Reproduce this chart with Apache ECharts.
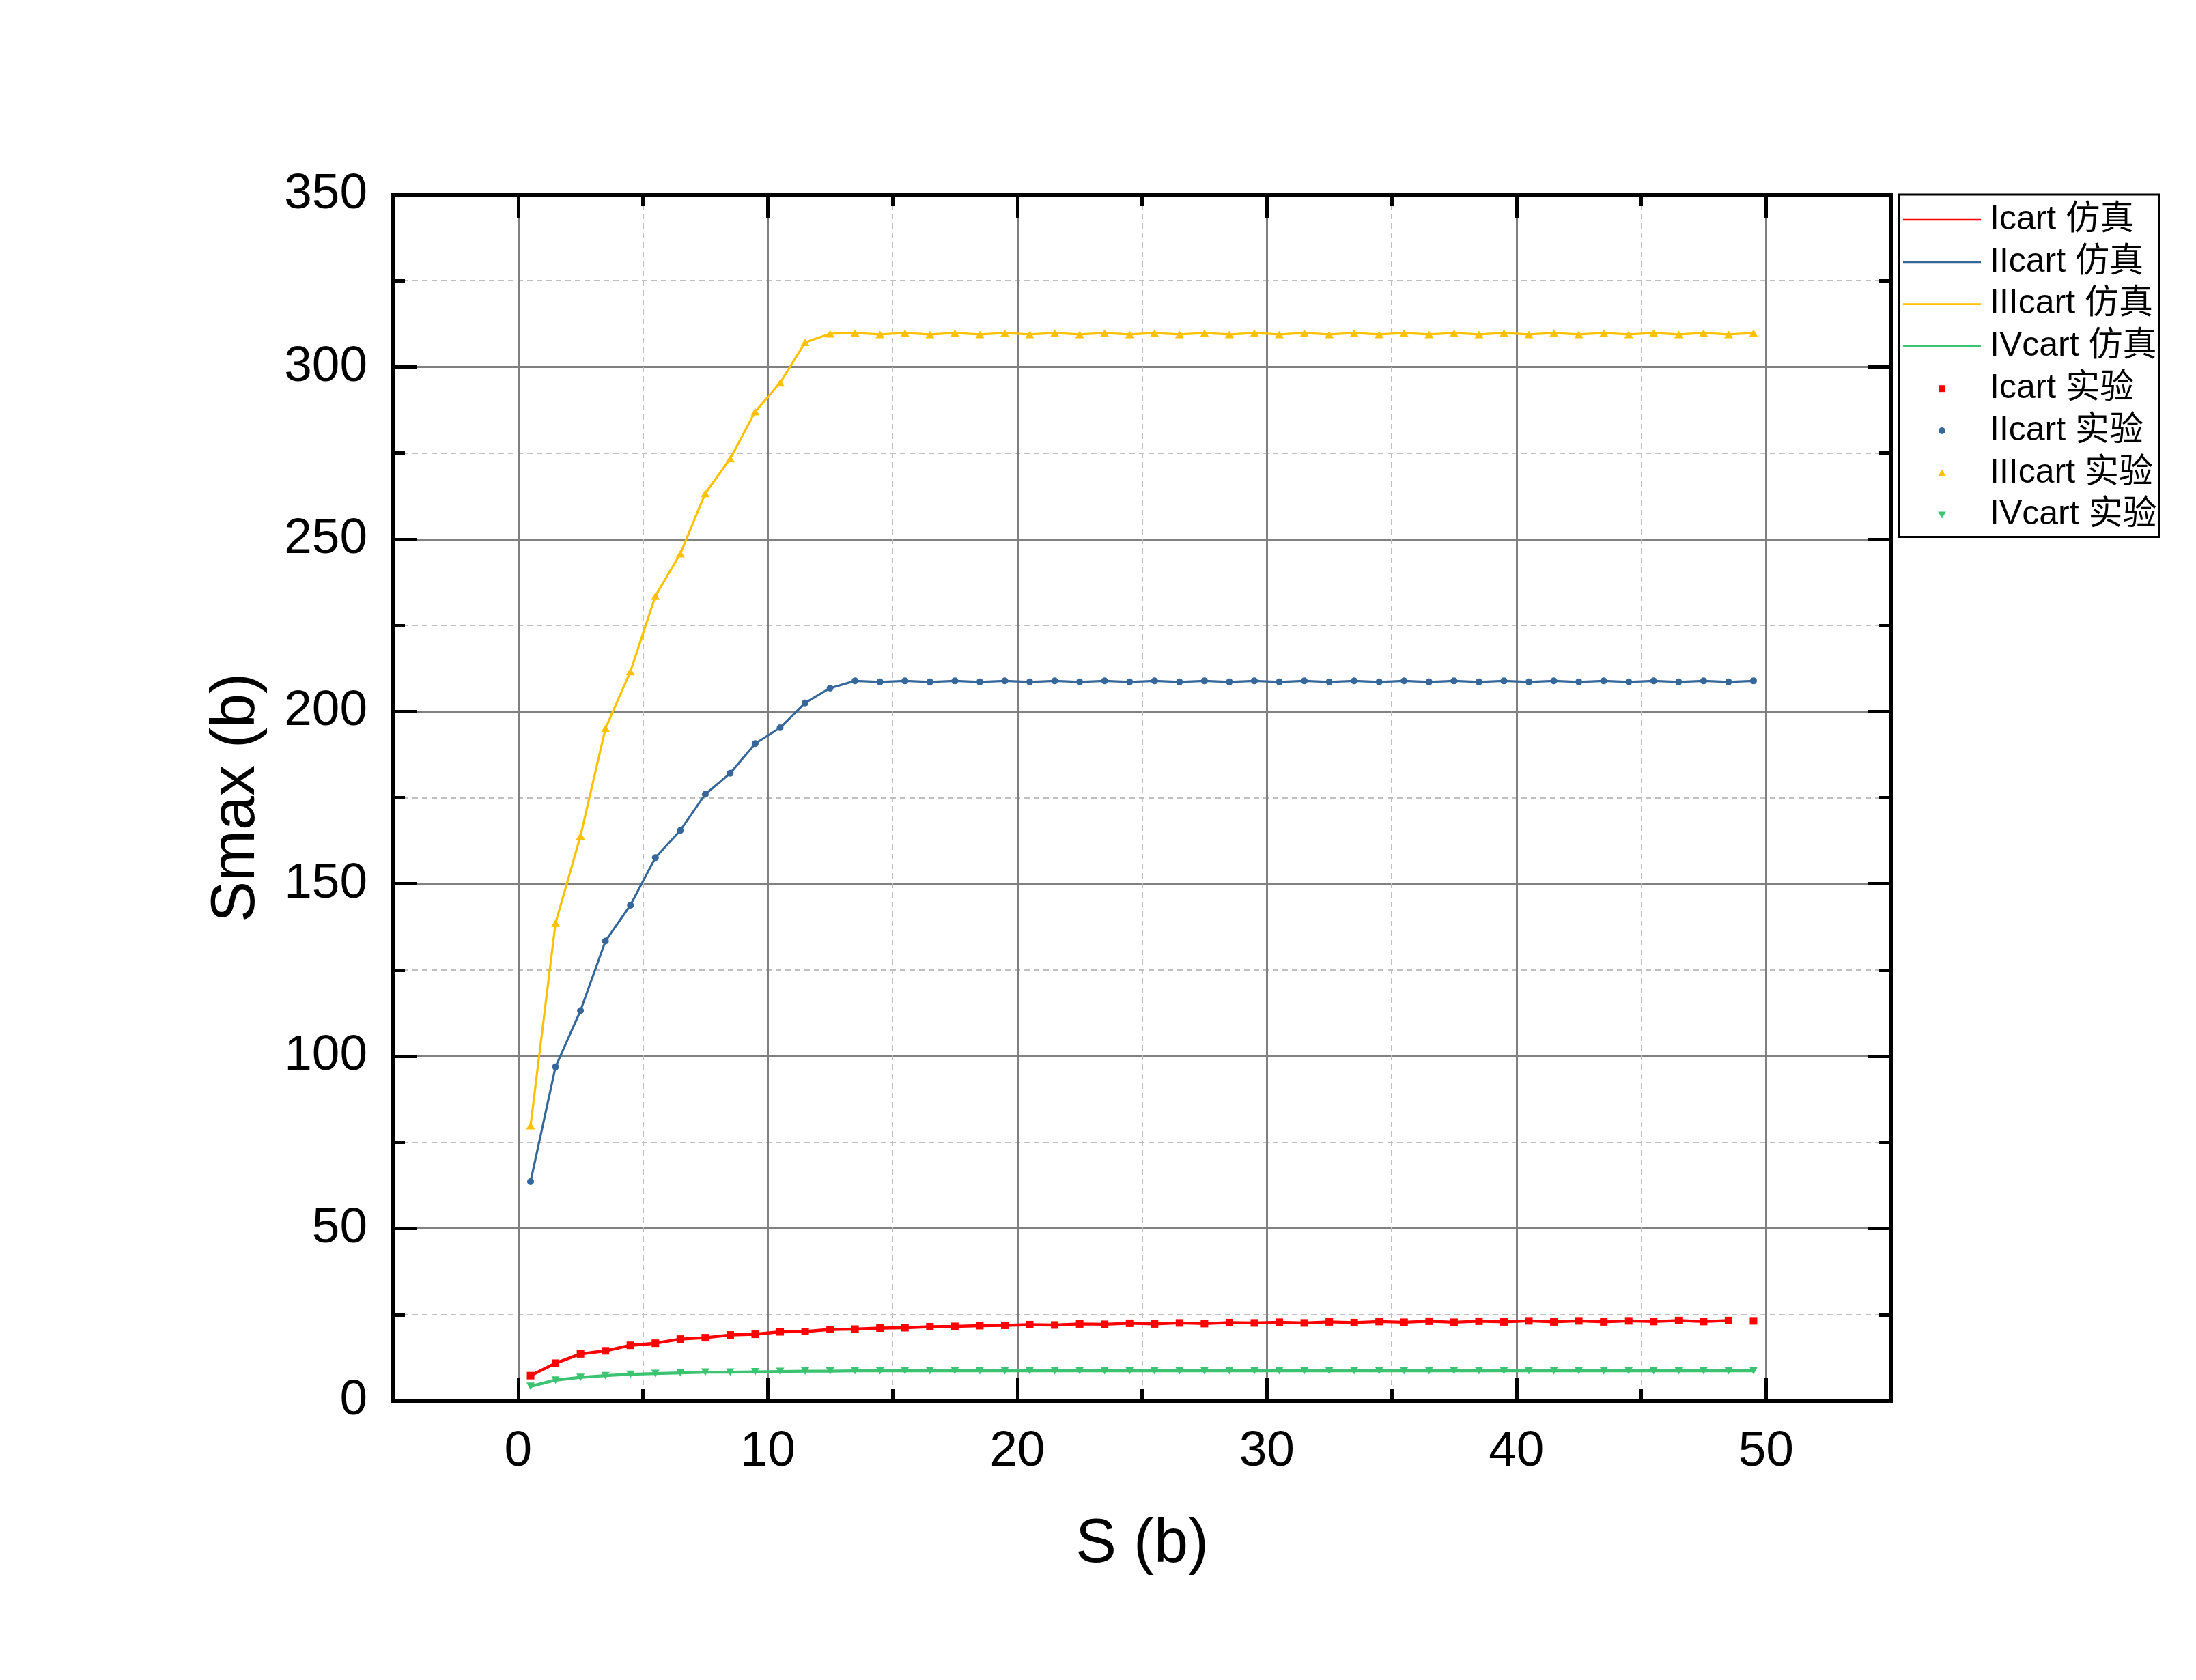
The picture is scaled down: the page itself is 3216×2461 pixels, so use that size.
<!DOCTYPE html>
<html>
<head>
<meta charset="utf-8">
<script src="https://cdn.jsdelivr.net/npm/echarts@6/dist/echarts.min.js"></script>
<style>
html,body{margin:0;padding:0;background:#fff;}
#c{width:3216px;height:2461px;}
</style>
</head>
<body>
<div id="c"></div>
<script>
// ---------------- data ----------------
const sValues = [0.5,1.5,2.5,3.5,4.5,5.5,6.5,7.5,8.5,9.5,
  10.5,11.5,12.5,13.5,14.5,15.5,16.5,17.5,18.5,19.5,
  20.5,21.5,22.5,23.5,24.5,25.5,26.5,27.5,28.5,29.5,
  30.5,31.5,32.5,33.5,34.5,35.5,36.5,37.5,38.5,39.5,
  40.5,41.5,42.5,43.5,44.5,45.5,46.5,47.5,48.5,49.5];

// Icart simulation (line ends at S = 48.5)
const icartSim = [7.3,10.9,13.6,14.5,16.1,16.7,17.9,18.3,19.1,19.3,
  20.0,20.1,20.7,20.8,21.1,21.2,21.5,21.6,21.8,21.9,
  22.1,22.0,22.3,22.2,22.5,22.3,22.6,22.4,22.7,22.6,
  22.8,22.6,22.9,22.7,23.0,22.8,23.1,22.8,23.1,22.9,
  23.2,22.9,23.2,22.9,23.2,23.0,23.3,23.0,23.3];
const icartExp = [7.3,10.9,13.6,14.5,16.1,16.7,17.9,18.3,19.1,19.3,
  20.0,20.1,20.7,20.8,21.1,21.2,21.5,21.6,21.8,21.9,
  22.1,22.0,22.3,22.2,22.5,22.3,22.6,22.4,22.7,22.6,
  22.8,22.6,22.9,22.7,23.0,22.8,23.1,22.8,23.1,22.9,
  23.2,22.9,23.2,22.9,23.2,23.0,23.3,23.0,23.3,23.2];

const iicartSim = [63.6,96.9,113.2,133.4,143.8,157.6,165.5,176.0,182.1,190.7,
  195.3,202.5,206.8,208.9,208.6,208.9,208.6,208.9,208.6,208.9,
  208.6,208.9,208.6,208.9,208.6,208.9,208.6,208.9,208.6,208.9,
  208.6,208.9,208.6,208.9,208.6,208.9,208.6,208.9,208.6,208.9,
  208.6,208.9,208.6,208.9,208.6,208.9,208.6,208.9,208.6,208.9];
const iicartExp = [63.6,96.9,113.2,133.4,143.8,157.6,165.5,176.0,182.1,190.7,
  195.3,202.5,206.8,208.9,208.6,208.9,208.6,208.9,208.6,208.9,
  208.6,208.9,208.6,208.9,208.6,208.9,208.6,208.9,208.6,208.9,
  208.6,208.9,208.6,208.9,208.6,208.9,208.6,208.9,208.6,208.9,
  208.6,208.9,208.6,208.9,208.6,208.9,208.6,208.9,208.6,208.9];

const iiicartSim = [79.8,138.6,163.9,195.1,211.6,233.5,245.8,263.3,273.4,287.0,
  295.4,307.1,309.6,309.8,309.4,309.8,309.4,309.8,309.4,309.8,
  309.4,309.8,309.4,309.8,309.4,309.8,309.4,309.8,309.4,309.8,
  309.4,309.8,309.4,309.8,309.4,309.8,309.4,309.8,309.4,309.8,
  309.4,309.8,309.4,309.8,309.4,309.8,309.4,309.8,309.4,309.8];
const iiicartExp = [79.8,138.6,163.9,195.1,211.6,233.5,245.8,263.3,273.4,287.0,
  295.4,307.1,309.6,309.8,309.4,309.8,309.4,309.8,309.4,309.8,
  309.4,309.8,309.4,309.8,309.4,309.8,309.4,309.8,309.4,309.8,
  309.4,309.8,309.4,309.8,309.4,309.8,309.4,309.8,309.4,309.8,
  309.4,309.8,309.4,309.8,309.4,309.8,309.4,309.8,309.4,309.8];

const ivcartSim = [4.2,6.0,6.8,7.3,7.7,7.9,8.1,8.3,8.3,8.4,
  8.5,8.6,8.6,8.7,8.7,8.7,8.7,8.7,8.7,8.7,
  8.7,8.7,8.7,8.7,8.7,8.7,8.7,8.7,8.7,8.7,
  8.7,8.7,8.7,8.7,8.7,8.7,8.7,8.7,8.7,8.7,
  8.7,8.7,8.7,8.7,8.7,8.7,8.7,8.7,8.7,8.7];
const ivcartExp = [4.2,6.0,6.8,7.3,7.7,7.9,8.1,8.3,8.3,8.4,
  8.5,8.6,8.6,8.7,8.7,8.7,8.7,8.7,8.7,8.7,
  8.7,8.7,8.7,8.7,8.7,8.7,8.7,8.7,8.7,8.7,
  8.7,8.7,8.7,8.7,8.7,8.7,8.7,8.7,8.7,8.7,
  8.7,8.7,8.7,8.7,8.7,8.7,8.7,8.7,8.7,8.7];

const seriesNames = ['Icart 仿真','IIcart 仿真','IIIcart 仿真','IVcart 仿真',
                     'Icart 实验','IIcart 实验','IIIcart 实验','IVcart 实验'];
const xMajorTicks = [0,10,20,30,40,50];
const xMinorTicks = [5,15,25,35,45];
const yMajorTicks = [0,50,100,150,200,250,300,350];
const yInnerMajor = [50,100,150,200,250,300];
const yMinorTicks = [25,75,125,175,225,275,325];

// ---------------- style ----------------
const FONT = '"Liberation Sans", Arial, "Noto Sans CJK SC", sans-serif';
const COLORS = ['#FF0000', '#35679A', '#FFC000', '#3CC371'];
const LINE_W = [4.4, 3.2, 3.2, 4.4];
const SQUARE = 'path://M0,0H1V1H0Z';
const TRI_UP = 'path://M1,0L2,1.7L0,1.7Z';
const TRI_DOWN = 'path://M0,0L2,0L1,1.7Z';
const SYMBOLS = [SQUARE, 'circle', TRI_UP, TRI_DOWN];
const SYMBOL_SIZES = [11, 10, [13,11], [12,11]];
const LEGEND_LINE = 'path://M0,0H100V2.4H0Z';

function pairs(xs, ys) { return ys.map((v, i) => [xs[i], v]); }

const simData = [icartSim, iicartSim, iiicartSim, ivcartSim];
const expData = [icartExp, iicartExp, iiicartExp, ivcartExp];

const black = '#000';
function xAx(position, ticks, len, opts) {
  return Object.assign({
    type: 'value', min: -5, max: 55, position: position,
    axisLine: {show: false, onZero: false},
    axisTick: {show: true, inside: true, length: len, customValues: ticks, lineStyle: {color: black, width: 5}},
    axisLabel: {show: false},
    splitLine: {show: false}
  }, opts || {});
}
function yAx(position, ticks, len, opts) {
  return Object.assign({
    type: 'value', min: 0, max: 350, interval: 50, position: position,
    axisLine: {show: false, onZero: false},
    axisTick: {show: true, inside: true, length: len, customValues: ticks, lineStyle: {color: black, width: 5}},
    axisLabel: {show: false},
    splitLine: {show: false}
  }, opts || {});
}
const axisLineShow = {show: true, onZero: false, lineStyle: {color: black, width: 6, cap: 'square'}};

const xAxes = [
  xAx('bottom', xMinorTicks, 17, {
    splitLine: {show: true, lineStyle: {color: '#BFBFBF', width: 2, type: [8, 6]}}
  }),
  xAx('bottom', xMajorTicks, 34, {
    splitLine: {show: true, lineStyle: {color: '#808080', width: 3, type: 'solid'}}
  }),
  xAx('top', xMinorTicks, 17),
  xAx('top', xMajorTicks, 34, {axisLine: axisLineShow}),
  xAx('bottom', xMajorTicks, 34, {
    axisLine: axisLineShow,
    name: 'S (b)', nameLocation: 'middle', nameGap: 166,
    nameTextStyle: {fontSize: 90, fontFamily: FONT, color: black},
    axisLabel: {show: true, customValues: xMajorTicks, margin: 38, fontSize: 73, fontFamily: FONT, color: black}
  })
];
const yAxes = [
  yAx('left', yMinorTicks, 17, {
    splitLine: {show: true, lineStyle: {color: '#BFBFBF', width: 2, type: [8, 6]}}
  }),
  yAx('left', yInnerMajor, 34, {
    axisTick: {show: false, customValues: yInnerMajor},
    splitLine: {show: true, lineStyle: {color: '#808080', width: 3, type: 'solid'}}
  }),
  yAx('right', yMinorTicks, 17),
  yAx('right', yMajorTicks, 34, {axisLine: axisLineShow}),
  yAx('left', yMajorTicks, 34, {
    axisLine: axisLineShow,
    name: 'Smax (b)', nameLocation: 'middle', nameGap: 184, nameRotate: 90,
    nameTextStyle: {fontSize: 90, fontFamily: FONT, color: black},
    axisLabel: {show: true, margin: 38, fontSize: 73, fontFamily: FONT, color: black}
  })
];

const series = [];
simData.forEach((ys, k) => {
  series.push({
    name: seriesNames[k], type: 'line', xAxisIndex: 4, yAxisIndex: 4,
    data: pairs(sValues, ys), symbol: 'none', z: 3,
    lineStyle: {color: COLORS[k], width: LINE_W[k]},
    itemStyle: {color: COLORS[k]}
  });
});
expData.forEach((ys, k) => {
  series.push({
    name: seriesNames[k + 4], type: 'scatter', xAxisIndex: 4, yAxisIndex: 4,
    data: pairs(sValues, ys), symbol: SYMBOLS[k], symbolSize: SYMBOL_SIZES[k], z: 4,
    itemStyle: {color: COLORS[k], opacity: 1}
  });
});

const legendIcons = [LEGEND_LINE, LEGEND_LINE, LEGEND_LINE, LEGEND_LINE,
                     SQUARE, 'circle', TRI_UP, TRI_DOWN];

const option = {
  backgroundColor: '#fff',
  animation: false,
  grid: {left: 576, top: 285, width: 2193, height: 1767, containLabel: false},
  xAxis: xAxes,
  yAxis: yAxes,
  legend: {
    orient: 'vertical', left: 2781, top: 285,
    padding: [12, 4, 7, 6],
    itemWidth: 114, itemHeight: 10, itemGap: 11.8,
    borderColor: black, borderWidth: 3, backgroundColor: '#fff',
    itemStyle: {borderWidth: 0},
    textStyle: {fontSize: 50, lineHeight: 50, fontFamily: FONT, color: black, padding: [0, 0, 0, 8]},
    data: seriesNames.map((n, i) => ({name: n, icon: legendIcons[i]}))
  },
  series: series
};

const chart = echarts.init(document.getElementById('c'), null, {renderer: 'canvas'});
chart.setOption(option);
</script>
</body>
</html>
